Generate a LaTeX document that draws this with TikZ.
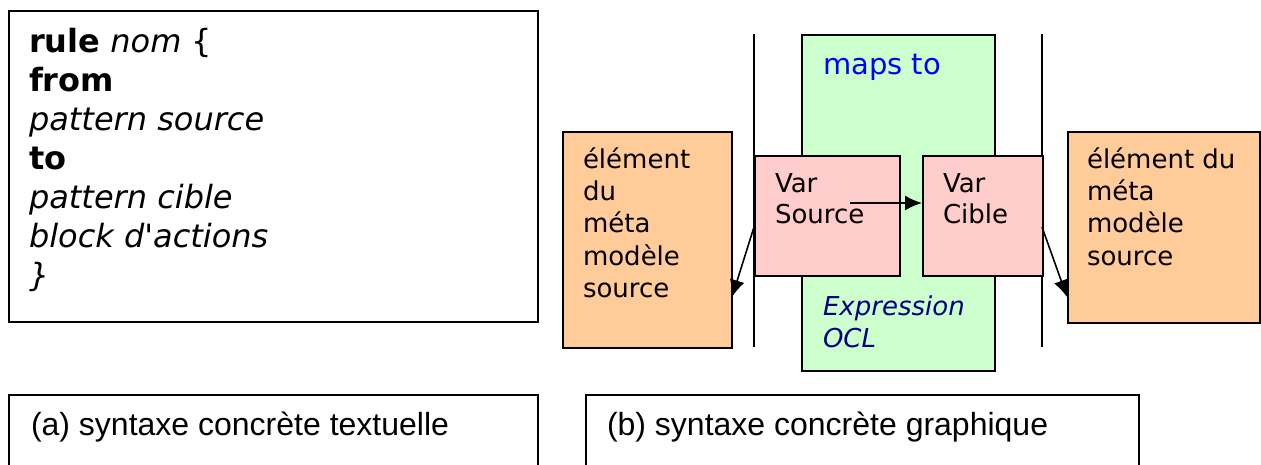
\documentclass[tikz,border=0pt]{standalone}
\usepackage{fontspec}
\setmainfont{DejaVu Sans}[Ligatures=TeXOff]
\newfontfamily\arialfont{Liberation Sans}
\usetikzlibrary{arrows.meta}
\definecolor{orangefill}{HTML}{FFCC99}
\definecolor{pinkfill}{HTML}{FFCCCC}
\definecolor{greenfill}{HTML}{CCFFCC}
\definecolor{mapsblue}{HTML}{0000FF}
\definecolor{oclnavy}{HTML}{000080}
\tikzset{
  boxline/.style={draw=black, line width=2pt},
  txt/.style={anchor=base west, inner sep=0pt, outer sep=0pt},
  codetxt/.style={txt, font=\fontsize{32}{39}\selectfont},
  dtxt/.style={txt, font=\fontsize{26}{32}\selectfont},
  captxt/.style={txt, font=\arialfont\fontsize{32}{38}\selectfont},
  arr/.style={line width=1.6pt, -{Latex[length=17pt,width=15pt]}},
}
\begin{document}
\begin{tikzpicture}[x=1pt,y=-1pt]
\useasboundingbox (0,0) rectangle (1261,464);
% left code box
\draw[boxline] (9,11) rectangle (538,322);
\node[codetxt] (c1) at (29,52) {\textbf{rule} \textit{nom} \{};
\node[codetxt] (c2) at (29,91) {\textbf{from}};
\node[codetxt] (c3) at (29,130) {\textit{pattern source}};
\node[codetxt] (c4) at (29,169) {\textbf{to}};
\node[codetxt] (c5) at (29,208) {\textit{pattern cible}};
\node[codetxt] (c6) at (29,247) {\textit{block d'actions}};
\node[codetxt] (c7) at (29,286) {\textit{\}}};
% caption boxes
\draw[boxline] (9,395) rectangle (538,480);
\node[captxt] (capa) at (31,435) {(a) syntaxe concrète textuelle};
\draw[boxline] (586,395) rectangle (1139,480);
\node[captxt] (capb) at (607,435) {(b) syntaxe concrète graphique};
% vertical lines
\coordinate (vlLtop) at (754,34);
\coordinate (vlLbot) at (754,347);
\coordinate (vlRtop) at (1042,34);
\coordinate (vlRbot) at (1042,347);
\draw[line width=2pt] (vlLtop) -- (vlLbot);
\draw[line width=2pt] (vlRtop) -- (vlRbot);
% green box
\draw[boxline, fill=greenfill] (802,35) rectangle (995,371);
\node[txt, font=\fontsize{29}{35}\selectfont, text=mapsblue] (maps) at (823,74) {maps to};
\node[dtxt, font=\fontsize{26}{32}\selectfont\itshape, text=oclnavy] (expr1) at (823,315) {Expression};
\node[dtxt, font=\fontsize{26}{32}\selectfont\itshape, text=oclnavy] (expr2) at (823,347) {OCL};
% pink boxes
\node[boxline, fill=pinkfill, minimum width=145pt, minimum height=120pt, inner sep=0pt, anchor=north west] (pinkS) at (754,155) {};
\node[boxline, fill=pinkfill, minimum width=120pt, minimum height=120pt, inner sep=0pt, anchor=north west] (pinkC) at (922,155) {};
\node[dtxt] (vs1) at (775,192) {Var};
\node[dtxt] (vs2) at (775,223) {Source};
\node[dtxt] (vc1) at (943,192) {Var};
\node[dtxt] (vc2) at (943,223) {Cible};
% orange boxes
\node[boxline, fill=orangefill, minimum width=169pt, minimum height=216pt, inner sep=0pt, anchor=north west] (orL) at (562,131) {};
\node[boxline, fill=orangefill, minimum width=192pt, minimum height=191pt, inner sep=0pt, anchor=north west] (orR) at (1067,131) {};
\node[dtxt] (ol1) at (583,168) {élément};
\node[dtxt] (ol2) at (583,200) {du};
\node[dtxt] (ol3) at (583,232) {méta};
\node[dtxt] (ol4) at (583,265) {modèle};
\node[dtxt] (ol5) at (583,297) {source};
\node[dtxt] (or1) at (1087,168) {élément du};
\node[dtxt] (or2) at (1087,200) {méta};
\node[dtxt] (or3) at (1087,232) {modèle};
\node[dtxt] (or4) at (1087,265) {source};
% arrows
\coordinate (aS) at (850,203);
\draw[arr] (aS) -- (aS -| pinkC.west);
\coordinate (aL) at (754,227);
\coordinate (aLend) at (732,297);
\draw[arr] (aL) -- (aLend);
\coordinate (aR) at (1042,227);
\coordinate (aRend) at (1067,297);
\draw[arr] (aR) -- (aRend);
\end{tikzpicture}
\end{document}
